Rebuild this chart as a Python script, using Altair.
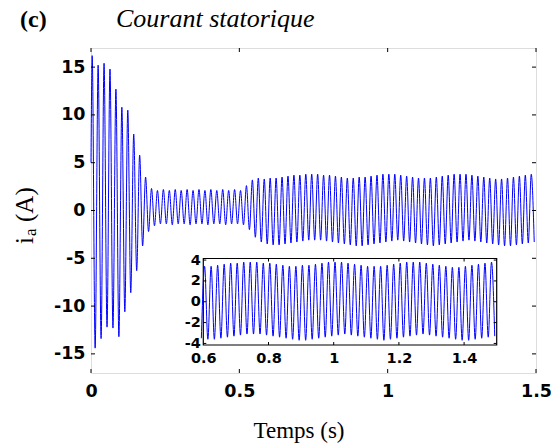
import altair as alt
import pandas as pd

# ---------------- data ----------------
period = 0.02          # 50 Hz supply
t_first_peak = 0.004   # time of first positive crest
start_value = 5.0      # value at t = 0

# positive crests, one per cycle (A)
pos_peaks = [16.2, 15.2, 15.4, 14.8, 12.7, 10.8, 10.5, 8.0, 5.8, 3.5, 2.3,
             2.1, 2.2, 2.1, 2.2, 2.1, 2.2, 2.1, 2.2, 2.1, 2.2, 2.1, 2.2, 2.1, 2.2, 2.1,
             2.6, 3.2, 3.4, 3.3,
             3.4, 3.4, 3.5, 3.6, 3.7, 3.7, 3.8, 3.8, 3.8, 3.7,
             3.7, 3.6, 3.5, 3.4, 3.4, 3.5, 3.5, 3.6, 3.7, 3.8,
             3.8, 3.8, 3.7, 3.6, 3.5, 3.4, 3.4, 3.4, 3.5, 3.6,
             3.7, 3.8, 3.8, 3.8, 3.7, 3.6, 3.5, 3.4, 3.3, 3.3,
             3.4, 3.5, 3.6, 3.7, 3.8]
# negative crests, one per cycle (A)
neg_peaks = [-14.4, -13.4, -12.2, -12.3, -13.2, -10.6, -8.6, -6.3, -3.7, -2.2, -1.6,
             -1.4, -1.4, -1.5, -1.4, -1.4, -1.5, -1.4, -1.4, -1.5, -1.4, -1.4, -1.5, -1.4, -1.4, -1.5,
             -2.0, -2.8, -3.3, -3.5,
             -3.6, -3.6, -3.5, -3.4, -3.3, -3.2, -3.1, -3.1, -3.1, -3.2,
             -3.3, -3.4, -3.5, -3.6, -3.7, -3.7, -3.6, -3.5, -3.4, -3.3,
             -3.2, -3.1, -3.2, -3.3, -3.4, -3.5, -3.6, -3.7, -3.6, -3.5,
             -3.4, -3.3, -3.2, -3.1, -3.2, -3.3, -3.4, -3.5, -3.6, -3.7,
             -3.7, -3.6, -3.5, -3.4, -3.3]

main_x_domain = [0, 1.5]
main_y_domain = [-17, 17]
main_x_ticks = [0, 0.5, 1, 1.5]
main_y_ticks = [-15, -10, -5, 0, 5, 10, 15]

inset_x_domain = [0.6, 1.5]
inset_y_domain = [-4.15, 4.15]
inset_x_ticks = [0.6, 0.8, 1, 1.2, 1.4]
inset_y_ticks = [-4, -2, 0, 2, 4]

panel_label = "(c)"
title_text = "Courant statorique"
x_title = "Temps (s)"
y_title_parts = ["i", "a", "(A)"]

# ---------------- build table ----------------
rows = [{"t": 0.0, "i": start_value}]
for k, (p, n) in enumerate(zip(pos_peaks, neg_peaks)):
    rows.append({"t": t_first_peak + k * period, "i": p})
    rows.append({"t": t_first_peak + k * period + period / 2, "i": n})
df = pd.DataFrame(rows)

# ---------------- layout (pixels, inside plot area) ----------------
W, H = 445, 325
IN_L, IN_R, IN_T, IN_B = 112.3, 405.7, 210.5, 297.0
BLUE = "#0000FF"
LBL_FONT = "DejaVu Sans"
SERIF = "Liberation Serif"
TICK = 4

xs_main = alt.Scale(domain=main_x_domain, nice=False, zero=False)
ys_main = alt.Scale(domain=main_y_domain, nice=False, zero=False)
xs_in = alt.Scale(domain=inset_x_domain, range=[IN_L, IN_R], nice=False, zero=False)
ys_in = alt.Scale(domain=inset_y_domain, range=[IN_B, IN_T], nice=False, zero=False)

lbl_expr = "datum.value + ''"

main_line = alt.Chart(df).mark_line(color=BLUE, strokeWidth=1, interpolate="monotone").encode(
    x=alt.X("t:Q", scale=xs_main, title=None,
            axis=alt.Axis(values=main_x_ticks, labelExpr=lbl_expr, ticks=False, domain=False, grid=False,
                          labelFont=LBL_FONT, labelFontSize=17.5, labelFontWeight="bold",
                          labelColor="black", labelPadding=9, labelFlush=False)),
    y=alt.Y("i:Q", scale=ys_main, title=None,
            axis=alt.Axis(values=main_y_ticks, labelExpr=lbl_expr, ticks=False, domain=False, grid=False,
                          labelFont=LBL_FONT, labelFontSize=17.5, labelFontWeight="bold",
                          labelColor="black", labelPadding=6, labelFlush=False)),
)

xt = pd.DataFrame({"v": main_x_ticks})
yt = pd.DataFrame({"v": main_y_ticks})
main_ticks = alt.layer(
    alt.Chart(xt).mark_rule(color="black").encode(x=alt.X("v:Q", scale=xs_main), y=alt.value(H), y2=alt.value(H - TICK)),
    alt.Chart(xt).mark_rule(color="black").encode(x=alt.X("v:Q", scale=xs_main), y=alt.value(0), y2=alt.value(TICK)),
    alt.Chart(yt).mark_rule(color="black").encode(y=alt.Y("v:Q", scale=ys_main), x=alt.value(0), x2=alt.value(TICK)),
    alt.Chart(yt).mark_rule(color="black").encode(y=alt.Y("v:Q", scale=ys_main), x=alt.value(W), x2=alt.value(W - TICK)),
)

main_group = alt.layer(main_line, main_ticks)

# inset
box_df = pd.DataFrame({"x0": [inset_x_domain[0]], "x1": [inset_x_domain[1]],
                       "y0": [inset_y_domain[0]], "y1": [inset_y_domain[1]]})
inset_box = alt.Chart(box_df).mark_rect(fill="white", stroke="black", strokeWidth=1.2).encode(
    x=alt.X("x0:Q", scale=xs_in, title=None,
            axis=alt.Axis(orient="bottom", offset=-(H - IN_B), values=inset_x_ticks, labelExpr=lbl_expr,
                          ticks=False, domain=False, grid=False, labelFont=LBL_FONT, labelFontSize=14.5,
                          labelFontWeight="bold", labelColor="black", labelPadding=6, labelFlush=False)),
    x2="x1:Q",
    y=alt.Y("y0:Q", scale=ys_in, title=None,
            axis=alt.Axis(orient="left", offset=-IN_L, values=inset_y_ticks, labelExpr=lbl_expr,
                          ticks=False, domain=False, grid=False, labelFont=LBL_FONT, labelFontSize=14.5,
                          labelFontWeight="bold", labelColor="black", labelPadding=3, labelFlush=False)),
    y2="y1:Q",
)
inset_line = alt.Chart(df).transform_filter(
    (alt.datum.t >= 0.59) & (alt.datum.t <= 1.5)
).mark_line(color=BLUE, strokeWidth=1, interpolate="monotone").encode(
    x=alt.X("t:Q", scale=xs_in), y=alt.Y("i:Q", scale=ys_in))

ixt = pd.DataFrame({"v": inset_x_ticks[1:]})
iyt = pd.DataFrame({"v": inset_y_ticks})
inset_ticks = alt.layer(
    alt.Chart(ixt).mark_rule(color="black").encode(x=alt.X("v:Q", scale=xs_in), y=alt.value(IN_B), y2=alt.value(IN_B - 3)),
    alt.Chart(ixt).mark_rule(color="black").encode(x=alt.X("v:Q", scale=xs_in), y=alt.value(IN_T), y2=alt.value(IN_T + 3)),
    alt.Chart(iyt).mark_rule(color="black").encode(y=alt.Y("v:Q", scale=ys_in), x=alt.value(IN_L), x2=alt.value(IN_L + 3)),
    alt.Chart(iyt).mark_rule(color="black").encode(y=alt.Y("v:Q", scale=ys_in), x=alt.value(IN_R), x2=alt.value(IN_R - 3)),
)
inset_group = alt.layer(inset_box, inset_line, inset_ticks)


def txt(s, x, y, size, weight="normal", style="normal", angle=0, font=SERIF, align="left"):
    return alt.Chart(pd.DataFrame({"s": [s]})).mark_text(
        align=align, baseline="alphabetic", fontSize=size, fontWeight=weight, fontStyle=style,
        font=font, angle=angle, color="black").encode(x=alt.value(x), y=alt.value(y), text="s:N")


texts = alt.layer(
    txt(panel_label, 20 - 91, 27 - 48, 24, weight="bold"),
    txt(title_text, 116 - 91, 27 - 48, 26, style="italic"),
    txt(x_title, 299 - 91, 438 - 48, 23, align="center"),
    txt(y_title_parts[0], 33 - 91, 244 - 48, 25, angle=270),
    txt(y_title_parts[1], 36 - 91, 236 - 48, 17, angle=270),
    txt(y_title_parts[2], 33 - 91, 222 - 48, 25, angle=270),
)

chart = alt.layer(main_group, inset_group, texts).resolve_scale(
    x="independent", y="independent"
).properties(
    width=W, height=H,
    autosize=alt.AutoSizeParams(type="none"),
    padding={"left": 91, "top": 48, "right": 15, "bottom": 72},
).configure_view(stroke="black", strokeWidth=1.2).configure(background="white")

chart.save("out.html", embed_options={"renderer": "svg", "actions": False})
